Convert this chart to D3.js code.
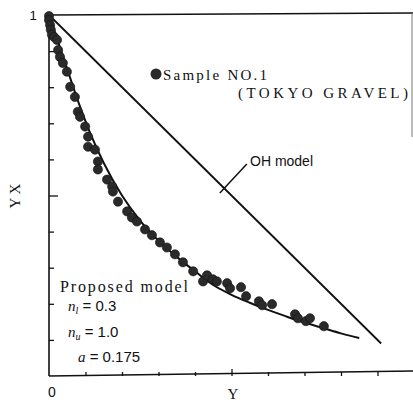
<!DOCTYPE html>
<html><head><meta charset="utf-8">
<script src="https://cdn.jsdelivr.net/npm/d3@7"></script>
<style>body{margin:0;background:#fff}svg{display:block}</style>
</head><body>
<svg id="c" width="413" height="407"></svg>
<script>
// measured data (Y/X vs Y)
const sampleX = [0.000,0.000,0.003,0.005,0.008,0.014,0.022,0.025,0.030,0.038,0.049,0.058,0.071,0.079,0.085,0.099,0.107,0.107,0.126,0.134,0.134,0.159,0.173,0.175,0.189,0.214,0.227,0.241,0.263,0.282,0.304,0.323,0.345,0.367,0.395,0.422,0.433,0.449,0.460,0.488,0.496,0.526,0.540,0.575,0.584,0.611,0.674,0.682,0.704,0.715,0.753];
const sampleY = [0.997,0.986,0.972,0.959,0.945,0.939,0.931,0.903,0.884,0.867,0.843,0.801,0.773,0.732,0.718,0.691,0.663,0.635,0.627,0.594,0.572,0.544,0.525,0.511,0.483,0.456,0.439,0.428,0.406,0.390,0.370,0.356,0.337,0.315,0.290,0.262,0.279,0.268,0.262,0.257,0.243,0.246,0.221,0.207,0.196,0.199,0.171,0.160,0.152,0.160,0.138];
const modelX = [0,0.02,0.05,0.08,0.11,0.15,0.20,0.25,0.30,0.35,0.40,0.45,0.50,0.55,0.60,0.65,0.70,0.75,0.80,0.85];
const modelY = [1,0.94,0.85,0.76,0.68,0.59,0.50,0.43,0.375,0.33,0.29,0.252,0.225,0.203,0.183,0.165,0.148,0.133,0.118,0.105];
const ohX = [0, 0.91];
const ohY = [1, 0.09];
const minorTicks = [0.1,0.2,0.3,0.4,0.6,0.7,0.8,0.9];
const majorTicks = [0.5];

const svg = d3.select("#c");
const x = d3.scaleLinear().domain([0,1]).range([49,414]);
const y = d3.scaleLinear().domain([0,1]).range([376,15]);
const ink = "#111";

// frame
svg.append("line").attr("x1",x(0)).attr("x2",x(0)).attr("y1",y(1)).attr("y2",y(0)).attr("stroke",ink).attr("stroke-width",1.6);
svg.append("line").attr("x1",x(0)).attr("x2",x(1)).attr("y1",y(0)).attr("y2",y(0)-5).attr("stroke",ink).attr("stroke-width",1.6);
svg.append("line").attr("x1",x(0)).attr("x2",x(1)).attr("y1",y(1)).attr("y2",y(1)-2).attr("stroke",ink).attr("stroke-width",1.6);
svg.append("line").attr("x1",412).attr("x2",412).attr("y1",y(1)-2).attr("y2",137).attr("stroke","#777").attr("stroke-width",1);

// ticks via axes
function styleAxis(g){ g.select(".domain").remove(); g.selectAll("text").remove(); g.selectAll("line").attr("stroke",ink).attr("stroke-width",1.3); }
svg.append("g").attr("transform",`translate(0,${y(0)})`).call(d3.axisBottom(x).tickValues(minorTicks).tickSize(-4)).call(styleAxis);
svg.append("g").attr("transform",`translate(0,${y(0)})`).call(d3.axisBottom(x).tickValues(majorTicks).tickSize(-7)).call(styleAxis);
svg.append("g").attr("transform",`translate(${x(0)},0)`).call(d3.axisLeft(y).tickValues(minorTicks).tickSize(-5)).call(styleAxis);
svg.append("g").attr("transform",`translate(${x(0)},0)`).call(d3.axisLeft(y).tickValues(majorTicks).tickSize(-9)).call(styleAxis);

// OH model line
svg.append("path").datum(ohX.map((v,i)=>[v,ohY[i]]))
  .attr("d", d3.line().x(d=>x(d[0])).y(d=>y(d[1])))
  .attr("fill","none").attr("stroke",ink).attr("stroke-width",1.8);

// proposed model
svg.append("path").datum(modelX.map((v,i)=>[v,modelY[i]]))
  .attr("d", d3.line().curve(d3.curveMonotoneX).x(d=>x(d[0])).y(d=>y(d[1])))
  .attr("fill","none").attr("stroke",ink).attr("stroke-width",2);

// sample points
svg.append("g").selectAll("circle").data(sampleX.map((v,i)=>[v,sampleY[i]])).join("circle")
  .attr("cx",d=>x(d[0])).attr("cy",d=>y(d[1])).attr("r",4.6)
  .attr("fill","#2a2a2a").attr("stroke","#111").attr("stroke-width",0.6);

// leader line for OH model
svg.append("line").attr("x1",x(0.468)).attr("y1",y(0.507)).attr("x2",x(0.542)).attr("y2",y(0.587))
  .attr("stroke",ink).attr("stroke-width",1.5);

const serif = "'Liberation Serif','DejaVu Serif',serif";
const sans = "'Liberation Sans',Arial,sans-serif";
svg.append("text").attr("x",250).attr("y",166).attr("font-family",sans).attr("font-size",14).attr("fill",ink).text("OH model");

// legend
svg.append("circle").attr("cx",156).attr("cy",74).attr("r",5.5).attr("fill","#2a2a2a");
svg.append("text").attr("x",163).attr("y",80).attr("font-family",serif).attr("font-size",15).attr("fill",ink).attr("textLength",104).text("Sample  NO.1");
svg.append("text").attr("x",238).attr("y",98).attr("font-family",serif).attr("font-size",15).attr("fill",ink).attr("textLength",170).text("(TOKYO  GRAVEL)");

// proposed model annotation
svg.append("text").attr("x",60).attr("y",292).attr("font-family",serif).attr("font-size",16).attr("fill",ink).attr("textLength",128).text("Proposed  model");
function param(yPos, xPos, sym, sub, val){
  const t = svg.append("text").attr("x",xPos).attr("y",yPos).attr("fill",ink).attr("font-size",15);
  t.append("tspan").attr("font-family",serif).attr("font-style","italic").text(sym);
  if(sub) t.append("tspan").attr("font-family",serif).attr("font-style","italic").attr("font-size",10).attr("dy",3).text(sub);
  t.append("tspan").attr("font-family",sans).attr("dy",sub?-3:0).text(" = "+val);
}
param(311, 68, "n", "l", "0.3");
param(337, 68, "n", "u", "1.0");
param(362, 78, "a", "", "0.175");

// axis labels
svg.append("text").attr("x",52).attr("y",397).attr("text-anchor","middle").attr("font-family",sans).attr("font-size",14).attr("fill",ink).text("0");
svg.append("text").attr("x",33).attr("y",20).attr("text-anchor","middle").attr("font-family",sans).attr("font-size",13).attr("fill",ink).text("1");
svg.append("text").attr("x",233).attr("y",399).attr("text-anchor","middle").attr("font-family",serif).attr("font-size",15).attr("fill",ink).text("Y");
svg.append("text").attr("transform","translate(20,196) rotate(-90)").attr("text-anchor","middle").attr("font-family",serif).attr("font-size",15).attr("fill",ink).text("Y  X");
</script>
</body></html>
